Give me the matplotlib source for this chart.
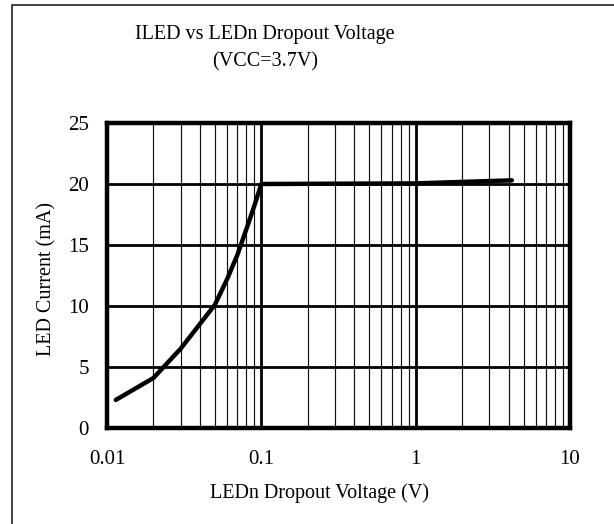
import matplotlib
matplotlib.use("Agg")
import matplotlib.pyplot as plt
from matplotlib.patches import Rectangle
from matplotlib.ticker import FixedLocator, NullFormatter

voltage = [0.0114, 0.02, 0.03, 0.05, 0.06, 0.07, 0.08, 0.09, 0.1, 1.0, 4.2]
current = [2.3, 4.1, 6.5, 10.1, 12.2, 14.2, 16.3, 18.2, 20.0, 20.05, 20.3]
xticks = [0.01, 0.1, 1, 10]
xticklabels = ["0.01", "0.1", "1", "10"]
yticks = [0, 5, 10, 15, 20, 25]

xlabel = "LEDn Dropout Voltage (V)"
ylabel = "LED Current (mA)"

W, H, DPI = 614, 524, 100
fig = plt.figure(figsize=(W / DPI, H / DPI), dpi=DPI)
font = ["Liberation Serif", "DejaVu Serif"]
fs = 14.5
tfs = 15

# outer frame
fig.patches.append(Rectangle((12 / W, -0.1), 1.2, 1 - 5 / H + 0.1, transform=fig.transFigure,
                             fill=False, edgecolor="#222222", linewidth=1.2))

ax = fig.add_axes([107 / W, 1 - 428 / H, 463 / W, 305 / H])
ax.set_xscale("log")
ax.set_xlim(0.01, 10)
ax.set_ylim(0, 25)

# grid
minor = [m * 10.0 ** e for e in (-2, -1, 0) for m in range(2, 10)]
for v in minor:
    ax.axvline(v, color="#111111", linewidth=0.85, zorder=1)
for v in [0.1, 1]:
    ax.axvline(v, color="black", linewidth=2.0, zorder=1)
for v in [5, 10, 15, 20]:
    ax.axhline(v, color="black", linewidth=2.0, zorder=1)

ax.plot(voltage, current, color="black", linewidth=3.2, solid_capstyle="round",
        solid_joinstyle="round", zorder=3)

ax.xaxis.set_major_locator(FixedLocator(xticks))
ax.xaxis.set_minor_locator(FixedLocator(minor))
ax.xaxis.set_minor_formatter(NullFormatter())
ax.set_xticks(xticks)
ax.set_xticklabels(xticklabels, fontfamily=font, fontsize=tfs)
ax.set_yticks(yticks)
ax.set_yticklabels([str(v) for v in yticks], fontfamily=font, fontsize=tfs)
ax.tick_params(axis="both", which="both", length=0)
ax.tick_params(axis="x", pad=16)
ax.tick_params(axis="y", pad=13)

for s in ax.spines.values():
    s.set_linewidth(3.2)
    s.set_zorder(4)

fig.text(320 / W, 1 - 493 / H, xlabel, ha="center", va="center", fontfamily=font, fontsize=fs)
fig.text(47 / W, 1 - 279 / H, ylabel, ha="center", va="center", rotation=90,
         fontfamily=font, fontsize=fs)
fig.text(265 / W, 1 - 35 / H, "ILED vs LEDn Dropout Voltage", ha="center", va="center",
         fontfamily=font, fontsize=fs)
fig.text(265 / W, 1 - 62 / H, "(VCC=3.7V)", ha="center", va="center",
         fontfamily=font, fontsize=fs)

fig.savefig("out.png", dpi=DPI)
